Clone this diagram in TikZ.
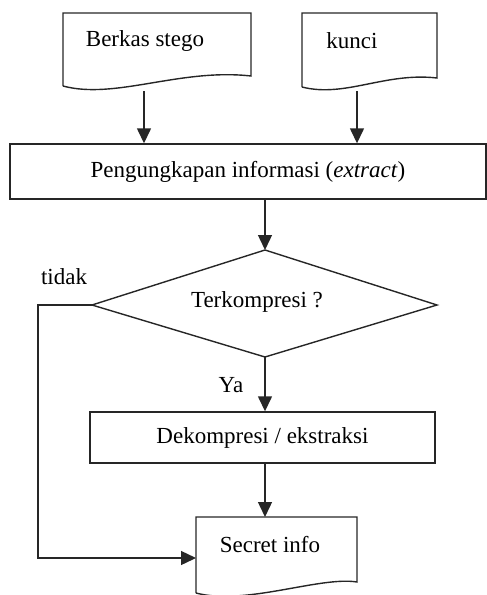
\documentclass[tikz,border=0pt]{standalone}
\usepackage{fontspec}
\setmainfont{Liberation Serif}
\usetikzlibrary{arrows.meta}
\begin{document}
\begin{tikzpicture}[x=1pt,y=-1pt,
  line width=1.4pt, draw=black!85,
  lbl/.style={font=\fontsize{23}{26}\selectfont, inner sep=0pt, anchor=center},
  box/.style={draw, inner sep=0pt, font=\fontsize{23}{26}\selectfont},
  arr/.style={-{Triangle[length=15pt,width=14pt]}}]
\useasboundingbox (0,0) rectangle (487,595);
% document shapes
\draw (63,86) -- (63,13) -- (251,13) -- (251,76) .. controls (180,68) and (115,100) .. (63,86);
\node[lbl] (berkas) at (145,41) {Berkas stego};
\draw (302,87) -- (302,13) -- (437,13) -- (437,78) .. controls (385,72) and (345,98) .. (302,87);
\node[lbl] (kunci) at (352,41) {kunci};
% extract box
\node[box, minimum width=476pt, minimum height=55pt] (extract) at (248,171.5) {Pengungkapan informasi (\textit{extract})};
% diamond
\coordinate (dt) at (265,250);
\coordinate (dl) at (92,305);
\coordinate (dr) at (437,305);
\coordinate (db) at (265,357);
\draw (dt) -- (dr) -- (db) -- (dl) -- cycle;
\node[lbl] (q) at (257,302) {Terkompresi ?};
% decompress box
\node[box, minimum width=345pt, minimum height=51pt] (dekomp) at (262.5,437.5) {Dekompresi / ekstraksi};
% secret info doc
\draw (196,593) -- (196,517) -- (357,517) -- (357,582) .. controls (320,576) and (245,606) .. (196,593);
\coordinate (sitop) at (265,517);
\coordinate (sileft) at (196,558);
\node[lbl] (secret) at (270,545) {Secret info};
% labels
\node[lbl] (tidak) at (64,277) {tidak};
\node[lbl] (ya) at (231,385) {Ya};
% connectors
\coordinate (b1) at (144,91);
\coordinate (k1) at (357,91);
\draw[arr] (b1) -- (b1 |- extract.north);
\draw[arr] (k1) -- (k1 |- extract.north);
\draw[arr] (extract.south -| dt) -- (dt);
\draw[arr] (db) -- (db |- dekomp.north);
\draw[arr] (dekomp.south -| sitop) -- (sitop);
\coordinate (corner1) at (38,305);
\coordinate (corner2) at (38,558);
\draw[arr] (dl) -- (corner1) -- (corner2) -- (sileft);
\end{tikzpicture}
\end{document}
